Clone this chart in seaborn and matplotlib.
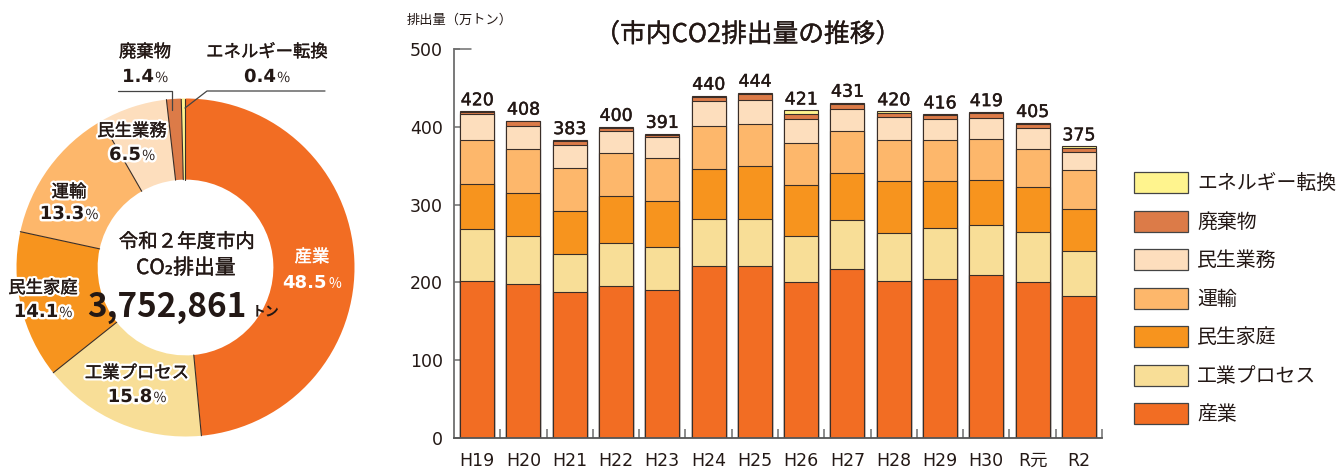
import numpy as np
import pandas as pd
import seaborn as sns
import matplotlib
matplotlib.use("Agg")
import matplotlib.pyplot as plt
import matplotlib.patheffects as pe
from matplotlib.patches import Patch
from matplotlib.lines import Line2D
from matplotlib.offsetbox import TextArea, HPacker, AnnotationBbox

# ---------------- data ----------------
years = ['H19', 'H20', 'H21', 'H22', 'H23', 'H24', 'H25', 'H26', 'H27',
         'H28', 'H29', 'H30', 'R元', 'R2']
sangyo = [202, 198, 188, 195, 190, 221, 221, 200, 217, 202, 205, 209, 200, 182]
kogyo = [67, 62, 48, 56, 56, 61, 61, 60, 63, 62, 65, 65, 65, 59]
katei = [58, 55, 56, 60, 59, 64, 67, 65, 60, 66, 60, 57, 57, 53]
unyu = [56, 56, 55, 55, 55, 55, 54, 54, 54, 53, 53, 53, 50, 50]
gyomu = [33, 30, 30, 29, 27, 32, 32, 31, 29, 29, 27, 27, 27, 24]
haiki = [3, 6, 5, 4, 3, 5, 7, 7, 6, 6, 5, 7, 5, 5]
energy = [1, 1, 1, 1, 1, 2, 2, 4, 2, 2, 1, 1, 1, 2]
totals = [420, 408, 383, 400, 391, 440, 444, 421, 431, 420, 416, 419, 405, 375]

sectors = ['産業', '工業プロセス', '民生家庭', '運輸', '民生業務', '廃棄物', 'エネルギー転換']
pie_pct = [48.5, 15.8, 14.1, 13.3, 6.5, 1.4, 0.4]
total_text = '3,752,861'

colors = {
    '産業': '#F26D23',
    '工業プロセス': '#F8DE97',
    '民生家庭': '#F7941E',
    '運輸': '#FDB76B',
    '民生業務': '#FDDEBD',
    '廃棄物': '#DC7B48',
    'エネルギー転換': '#FFF48E',
}

series = [sangyo, kogyo, katei, unyu, gyomu, haiki, energy]

# ---------------- style ----------------
sns.set_theme(style='white')
plt.rcParams['font.family'] = ['Noto Sans CJK JP', 'DejaVu Sans']
NUMFONT = ['DejaVu Sans', 'Noto Sans CJK JP']
TXT = '#231815'
AXC = '#6e6e6e'
EDGE = '#3a2e28'

W, H = 1336, 468
fig = plt.figure(figsize=(W / 100, H / 100), dpi=100)
fig.patch.set_facecolor('white')


def fx(x):
    return x / W


def fy(y):
    return 1 - y / H


def medium(color, halo=None, w=0.3):
    fx_ = []
    if halo:
        fx_.append(pe.Stroke(linewidth=3.5, foreground=halo))
    fx_.append(pe.Stroke(linewidth=w, foreground=color))
    fx_.append(pe.Normal())
    return fx_


# ---------------- bar chart ----------------
ax = fig.add_axes([fx(454), fy(438), fx(1102) - fx(454), fy(49) - fy(438)])
cum = np.cumsum(np.array(series), axis=0)
for k in range(len(sectors) - 1, -1, -1):
    d = pd.DataFrame({'year': years, 'value': cum[k]})
    sns.barplot(data=d, x='year', y='value', color=colors[sectors[k]],
                saturation=1, width=0.735, edgecolor=EDGE, linewidth=0.8,
                ax=ax, order=years)

ax.set_xlim(-0.5, len(years) - 0.5)
ax.set_ylim(0, 500)
ax.set_xlabel('')
ax.set_ylabel('')
ax.set_yticks([0, 100, 200, 300, 400, 500])
ax.tick_params(axis='y', direction='in', length=4.5, width=1.1, color=AXC,
               labelsize=12.5, labelcolor=TXT, pad=8, left=True)
ax.set_xticks(range(len(years)))
ax.set_xticklabels(years)
ax.set_xticks(np.arange(0.5, len(years), 1.0), minor=True)
ax.tick_params(axis='x', which='major', length=0, labelsize=12.5,
               labelcolor=TXT, pad=10)
ax.tick_params(axis='x', which='minor', direction='in', length=6.5,
               width=1.1, color=AXC, bottom=True)
for lab in ax.get_xticklabels() + ax.get_yticklabels():
    lab.set_fontfamily(NUMFONT)
for s in ['top', 'right']:
    ax.spines[s].set_visible(False)
ax.spines['left'].set_color(AXC)
ax.spines['left'].set_linewidth(1.3)
ax.spines['bottom'].set_color('#555555')
ax.spines['bottom'].set_linewidth(1.3)
ax.grid(False)
ax.plot([-0.5, -0.14], [500, 500], color=AXC, lw=1.1, clip_on=False)

for i, t in enumerate(totals):
    ax.text(i, cum[-1][i] + 2.5, str(t), ha='center', va='bottom',
            fontsize=12.5, color=TXT, family=NUMFONT,
            path_effects=medium(TXT, w=0.3))

fig.text(fx(748), fy(35), '（市内CO2排出量の推移）', ha='center', va='center',
         fontsize=18.5, color=TXT, path_effects=medium(TXT, w=0.25))
fig.text(fx(407), fy(20), '排出量（万トン）', ha='left', va='center',
         fontsize=9.5, color=TXT)

handles = [Patch(facecolor=colors[s], edgecolor='#444444', linewidth=0.9)
           for s in sectors[::-1]]
LFS = 14.3
em = LFS * 100 / 72
leg = fig.legend(handles, sectors[::-1], loc='upper left',
                 bbox_to_anchor=(fx(1134), fy(172)), frameon=False,
                 fontsize=LFS, handlelength=54 / em, handleheight=25 / em,
                 handletextpad=9 / em, labelspacing=16.3 / em,
                 borderpad=0, borderaxespad=0)
for t in leg.get_texts():
    t.set_color(TXT)

# ---------------- donut ----------------
R = 169
cx, cy = 185.5, 267.5
pax = fig.add_axes([fx(cx - R), fy(cy + R), fx(2 * R), fy(0) - fy(2 * R)])
inner = 0.52
wedges, _ = pax.pie(pie_pct, colors=[colors[s] for s in sectors],
                    startangle=90, counterclock=False,
                    wedgeprops=dict(width=1 - inner, linewidth=0))
pax.set_xlim(-1, 1)
pax.set_ylim(-1, 1)
pax.set_aspect('equal')
pax.axis('off')
bounds = 90 - np.cumsum([0] + pie_pct) / 100 * 360
for a in np.deg2rad(bounds[:-1]):
    pax.plot([inner * np.cos(a), np.cos(a)], [inner * np.sin(a), np.sin(a)],
             color=EDGE, lw=0.8)

label_pos = {
    '産業': (312, 257, 283, 'white'),
    '工業プロセス': (137, 373, 397, TXT),
    '民生家庭': (43, 288, 312, TXT),
    '運輸': (69, 192, 214, TXT),
    '民生業務': (132, 131, 155, TXT),
    '廃棄物': (145, 52, 77, TXT),
    'エネルギー転換': (267, 52, 77, TXT),
}
for s, p in zip(sectors, pie_pct):
    x, y1, y2, c = label_pos[s]
    halo = None if c == 'white' else 'white'
    fig.text(fx(x), fy(y1), s, ha='center', va='center', fontsize=12.5,
             color=c, path_effects=medium(c, halo, w=0.25))
    halo_fx = [pe.Stroke(linewidth=3.5, foreground='white'), pe.Normal()] \
        if halo else None
    box = HPacker(children=[
        TextArea(f'{p}', textprops=dict(fontsize=13, fontweight='bold',
                                          color=c, family=NUMFONT,
                                          path_effects=halo_fx)),
        TextArea('%', textprops=dict(fontsize=10, color=c,
                                     path_effects=halo_fx))],
        align='baseline', pad=0, sep=1)
    ab = AnnotationBbox(box, (fx(x), fy(y2)), xycoords='figure fraction',
                        frameon=False, box_alignment=(0.5, 0.5), pad=0)
    fig.add_artist(ab)

# leader lines
fig.add_artist(Line2D([fx(118), fx(172), fx(172)], [fy(91), fy(91), fy(110)],
                      color='#444444', lw=0.9))
fig.add_artist(Line2D([fx(325), fx(207), fx(185)], [fy(91), fy(91), fy(108)],
                      color='#444444', lw=0.9))

# center text
fig.text(fx(187), fy(242), '令和２年度市内', ha='center', va='center',
         fontsize=14, color=TXT, path_effects=medium(TXT, w=0.25))
fig.text(fx(186), fy(268), 'CO₂排出量', ha='center', va='center',
         fontsize=15, color=TXT, path_effects=medium(TXT, w=0.25))
fig.text(fx(167), fy(308), total_text, ha='center', va='center',
         fontsize=24, fontweight='bold', color=TXT)
fig.text(fx(266), fy(311), 'トン', ha='center', va='center',
         fontsize=10, fontweight='bold', color=TXT)

fig.savefig('out.png', dpi=100, facecolor='white')
